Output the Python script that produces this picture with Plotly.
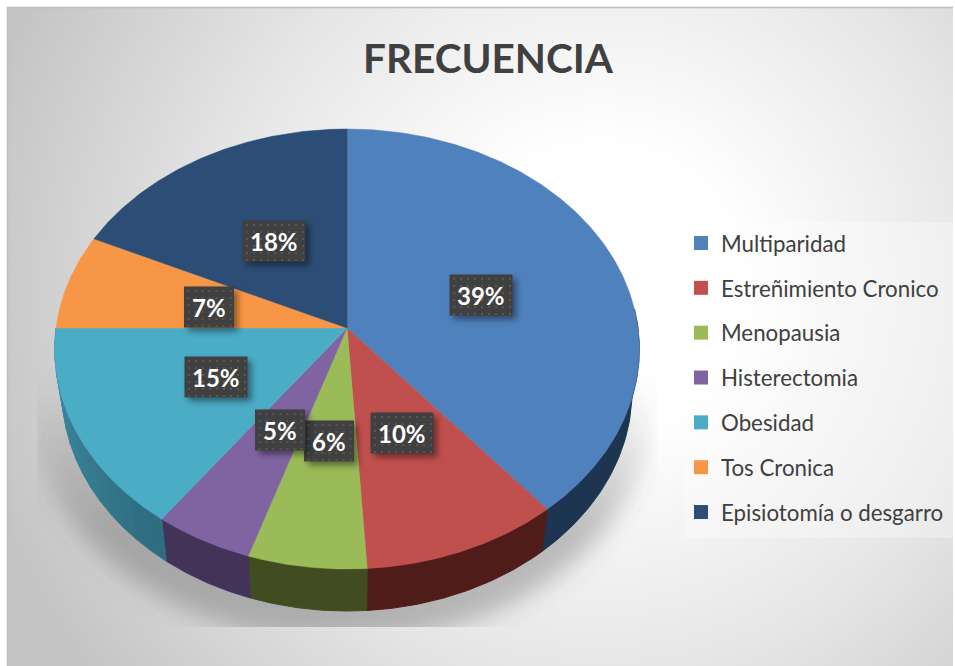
import base64
import numpy as np
import plotly.graph_objects as go

categories = ["Multiparidad", "Estreñimiento Cronico", "Menopausia", "Histerectomia",
              "Obesidad", "Tos Cronica", "Episiotomía o desgarro"]
shares = [39, 10, 6, 5, 15, 7, 18]
top_colors = ["#4f81bd", "#c0504d", "#9bbb59", "#8064a2", "#4bacc6", "#f79646", "#2c4d75"]
side_near = ["#1d3550", "#4f1c1a", "#414c20", "#443358", "#2f6d80", "#a5622c", "#1d3550"]
side_far = ["#1d3550", "#4f1c1a", "#414c20", "#443358", "#3f8fa8", "#a5622c", "#1d3550"]
label_x = [481, 402, 329, 280, 216, 209, 274]
label_y = [295, 433, 441, 430, 377, 307, 241]

CX, CY, A, B, K, DEPTH, RIM = 347, 328, 291, 218, 0.0955, 42, 0.975
W, H = 955, 666


def uri(svg):
    return "data:image/svg+xml;base64," + base64.b64encode(svg.encode()).decode()


bg_svg = f'''<svg xmlns="http://www.w3.org/2000/svg" width="{W}" height="{H}" viewBox="0 0 {W} {H}">
<defs>
<radialGradient id="g" gradientUnits="userSpaceOnUse" cx="600" cy="290" r="640">
<stop offset="0" stop-color="#ffffff"/><stop offset="0.22" stop-color="#ffffff"/>
<stop offset="0.6" stop-color="#e6e6e6"/><stop offset="1" stop-color="#c4c4c4"/></radialGradient>
<linearGradient id="s" gradientUnits="userSpaceOnUse" x1="0" y1="380" x2="0" y2="530">
<stop offset="0" stop-color="#555" stop-opacity="0"/><stop offset="1" stop-color="#555" stop-opacity="0.36"/></linearGradient>
<filter id="b" x="-20%" y="-20%" width="140%" height="140%"><feGaussianBlur stdDeviation="12"/></filter>
<clipPath id="c"><rect x="37" y="100" width="620" height="527"/></clipPath>
</defs>
<rect width="{W}" height="{H}" fill="#ffffff"/>
<rect x="7" y="7" width="{W-9}" height="{H-7}" fill="url(#g)"/>
<path d="M7.5 {H} V7.5 H{W-2}" fill="none" stroke="#bdbdbd" stroke-width="1.4"/>
<g clip-path="url(#c)"><ellipse cx="342" cy="402" rx="310" ry="240" fill="url(#s)" filter="url(#b)"/></g>
<rect x="685" y="222" width="268" height="316" fill="#ffffff" fill-opacity="0.32"/>
</svg>'''


def box_svg(w, h):
    dots = "".join(f'<rect x="{x}" y="{y}" width="2" height="2" fill="#565656"/>'
                   for x in np.arange(11.5, 6 + w, 7) for y in np.arange(11.5, 6 + h, 7))
    return f'''<svg xmlns="http://www.w3.org/2000/svg" width="{w+24}" height="{h+24}" viewBox="0 0 {w+24} {h+24}">
<defs><filter id="b" x="-30%" y="-30%" width="160%" height="160%"><feGaussianBlur stdDeviation="3"/></filter></defs>
<rect x="12" y="12" width="{w}" height="{h}" fill="#000" fill-opacity="0.42" filter="url(#b)"/>
<rect x="8" y="8" width="{w}" height="{h}" fill="#404040"/>{dots}</svg>'''


fig = go.Figure()
bounds = np.radians(np.concatenate([[0], np.cumsum(shares) / sum(shares) * 360]))


def arc(a, b, n=None):
    """Slice edge on the tilted disc, seen in perspective."""
    n = n or max(2, int(np.degrees(b - a)) * 2)
    t = np.linspace(a, b, n)
    d = 1 + K * np.cos(t)
    return CX + A * np.sin(t) / d, CY - B * np.cos(t) / d


def mix(c1, c2, f):
    a = [int(c1[i:i + 2], 16) for i in (1, 3, 5)]
    b = [int(c2[i:i + 2], 16) for i in (1, 3, 5)]
    return "rgb(%d,%d,%d)" % tuple(round(p + (q - p) * f) for p, q in zip(a, b))


# rim of the disc, only where it faces the viewer
lo, hi = np.radians(85), np.radians(270)
for i in range(len(shares)):
    a, b = max(bounds[i], lo), min(bounds[i + 1], hi)
    if b <= a:
        continue
    flat = side_near[i] == side_far[i]
    edges = np.array([a, b]) if flat else np.linspace(a, b, int(np.degrees(b - a) / 4) + 2)
    for k in range(len(edges) - 1):
        x, y = arc(edges[k], edges[k + 1], 60 if flat else 6)
        col = mix(side_near[i], side_far[i], (edges[k] - a) / (b - a))
        lx = CX + (x - CX) * RIM
        fig.add_trace(go.Scatter(
            x=np.r_[x, lx[::-1], x[0]], y=np.r_[y, y[::-1] + DEPTH, y[0]],
            mode="lines", fill="toself", fillcolor=col, line=dict(color=col, width=1),
            showlegend=False, hoverinfo="skip"))

# top face
for i, name in enumerate(categories):
    x, y = arc(bounds[i], bounds[i + 1])
    fig.add_trace(go.Scatter(
        x=np.r_[CX, x, CX], y=np.r_[CY, y, CY], mode="lines", fill="toself",
        fillcolor=top_colors[i], line=dict(color=top_colors[i], width=0.5),
        showlegend=False, name=name, hoverinfo="name"))

# legend entries
for i, name in enumerate(categories):
    fig.add_trace(go.Scatter(
        x=[None], y=[None], mode="markers", name=name, legendgroup=name,
        marker=dict(symbol="square", size=14, color=top_colors[i])))

images = [dict(source=uri(bg_svg), xref="x", yref="y", x=0, y=0, sizex=W, sizey=H,
               sizing="stretch", layer="below", xanchor="left", yanchor="top")]
annotations = []
for px, py, share in zip(label_x, label_y, shares):
    txt = f"{share}%"
    w = 63 if len(txt) == 3 else 50
    h = 41
    images.append(dict(source=uri(box_svg(w, h)), xref="x", yref="y",
                       x=px - w / 2 - 8, y=py - h / 2 - 8, sizex=w + 24, sizey=h + 24,
                       sizing="stretch", layer="above", xanchor="left", yanchor="top"))
    annotations.append(dict(x=px, y=py, text=f"<b>{txt}</b>", showarrow=False, xref="x", yref="y",
                            font=dict(family="Lato", size=24, color="#ffffff")))

fig.update_layout(
    width=W, height=H, autosize=False,
    margin=dict(l=0, r=0, t=0, b=0),
    paper_bgcolor="#ffffff", plot_bgcolor="rgba(0,0,0,0)",
    xaxis=dict(range=[0, W], visible=False, fixedrange=True),
    yaxis=dict(range=[H, 0], visible=False, fixedrange=True),
    images=images, annotations=annotations,
    title=dict(text="<b>FRECUENCIA</b>", x=488 / W, xanchor="center", y=1 - 59 / H, yanchor="middle",
               font=dict(family="Lato", size=40.5, color="#404040")),
    legend=dict(x=681 / W, y=1 - 222 / H, xanchor="left", yanchor="top", bgcolor="rgba(0,0,0,0)",
                font=dict(family="Lato", size=22.3, color="#404040"), tracegroupgap=12.85,
                itemclick=False, itemdoubleclick=False),
)
fig.write_html("out.html", config={"displayModeBar": False},
               post_script="document.body.style.margin='0';document.body.style.overflow='hidden';")
